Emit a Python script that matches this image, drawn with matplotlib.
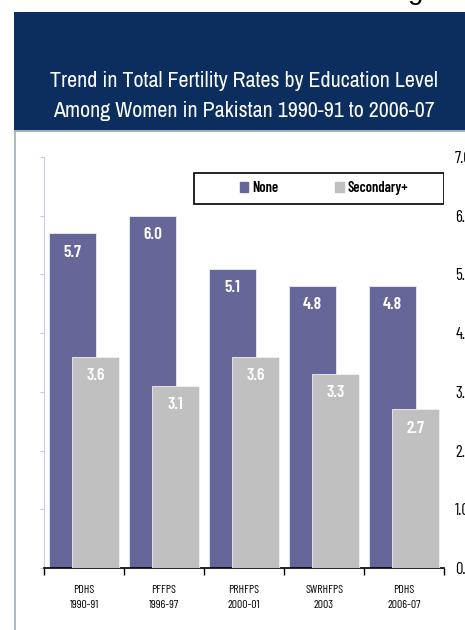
import matplotlib
matplotlib.use("Agg")
import matplotlib.pyplot as plt
from matplotlib.patches import Rectangle
import numpy as np

# Data
surveys = ["PDHS\n1990-91", "PFFPS\n1996-97", "PRHFPS\n2000-01", "SWRHFPS\n2003", "PDHS\n2006-07"]
tfr_none = [5.7, 6.0, 5.1, 4.8, 4.8]
tfr_secondary = [3.6, 3.1, 3.6, 3.3, 2.7]
series_names = ["None", "Secondary+"]
yticks = [0, 1, 2, 3, 4, 5, 6, 7]

NARROW = ["Archivo Narrow", "DejaVu Sans"]
COND = ["Barlow Condensed", "DejaVu Sans"]
NAVY = "#0b2e5f"
C_NONE = "#666699"
C_SEC = "#c0c0c0"

W, H = 465, 630
fig = plt.figure(figsize=(W / 100, H / 100), dpi=100)

# slide banner + frame
fig.patches.append(Rectangle((14 / W, 1 - 130 / H), 1, 118 / H, transform=fig.transFigure,
                             facecolor=NAVY, edgecolor="none", zorder=0))
fig.patches.append(Rectangle((14 / W, 1 - 132 / H), 1, 2 / H, transform=fig.transFigure,
                             facecolor="#9fb5b8", edgecolor="none", zorder=0))
fig.patches.append(Rectangle((14 / W, 0), 1.5 / W, 1 - 132 / H, transform=fig.transFigure,
                             facecolor="#a9bcbf", edgecolor="none", zorder=0))
fig.text(244 / W, 1 - 81 / H, "Trend in Total Fertility Rates by Education Level",
         color="white", fontsize=15.8, family=NARROW, ha="center", va="center")
fig.text(244 / W, 1 - 111 / H, "Among Women in Pakistan 1990-91 to 2006-07",
         color="white", fontsize=15.8, family=NARROW, ha="center", va="center")
# descender of cut-off heading above the slide
fig.text(416 / W, 1 + 1 / H, "g", color="black", fontsize=20, family="Liberation Sans",
         ha="center", va="baseline")

ax = fig.add_axes([44 / W, 62 / H, 400 / W, 411 / H])
x = np.arange(len(surveys))
off, bw = 0.146, 0.583
b1 = ax.bar(x - off, tfr_none, bw, color=C_NONE, edgecolor="#ececf4", linewidth=0.6, zorder=2)
b2 = ax.bar(x + off, tfr_secondary, bw, color=C_SEC, edgecolor="#f0f0f0", linewidth=0.6, zorder=3)

for bars, vals in ((b1, tfr_none), (b2, tfr_secondary)):
    for r, v in zip(bars, vals):
        ax.annotate(f"{v:.1f}", (r.get_x() + r.get_width() / 2, v), xytext=(0, -13.5),
                    textcoords="offset points", ha="center", va="center", color="white",
                    fontsize=12.5, fontweight="semibold", family=COND, zorder=5)

ax.set_xlim(-0.5, len(surveys) - 0.5)
ax.set_ylim(0, 7)
for s in ("top", "right"):
    ax.spines[s].set_visible(False)
ax.spines["left"].set_color("#c8c8f0")
ax.spines["left"].set_linewidth(0.8)
ax.spines["bottom"].set_color("black")
ax.spines["bottom"].set_linewidth(1.2)
ax.set_yticks(yticks)
ax.tick_params(axis="y", length=3, color="#c8c8f0", labelleft=False)
ax.set_xticks(np.arange(-0.5, len(surveys)), labels=[])
ax.tick_params(axis="x", which="major", length=5, color="black", width=1)
ax.set_xticks(x, labels=surveys, minor=True)
ax.tick_params(axis="x", which="minor", length=0, pad=12, labelsize=8.5)
for t in ax.get_xticklabels(minor=True):
    t.set_family(COND)
    t.set_linespacing(1.7)

# value scale printed on the right
ax2 = ax.twinx()
ax2.set_ylim(0, 7)
ax2.set_yticks(yticks, labels=[f"{v:.1f}" for v in yticks])
ax2.tick_params(axis="y", length=0, pad=8, labelsize=12)
for t in ax2.get_yticklabels():
    t.set_family(COND)
for s in ax2.spines.values():
    s.set_visible(False)

# legend box
ax.add_patch(Rectangle((0.375, 0.886), 0.625, 0.075, transform=ax.transAxes,
                       facecolor="white", edgecolor="black", linewidth=1.2, zorder=6))
handles = [Rectangle((0, 0), 1, 1, color=C_NONE), Rectangle((0, 0), 1, 1, color=C_SEC)]
leg = ax.legend(handles, series_names, loc="center", bbox_to_anchor=(0.70, 0.9235),
                ncol=2, frameon=False, handlelength=0.6, handleheight=0.7, handletextpad=0.25,
                columnspacing=3.9, prop={"family": COND, "weight": "semibold", "size": 10.5})
leg.set_zorder(7)

fig.savefig("out.png", dpi=100)
